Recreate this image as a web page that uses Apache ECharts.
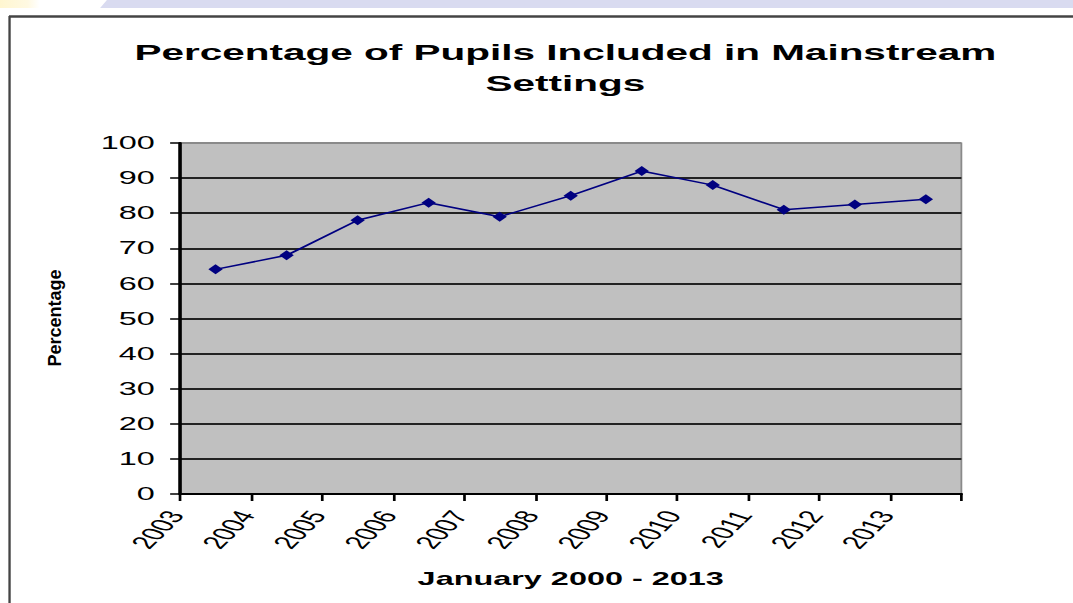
<!DOCTYPE html>
<html>
<head>
<meta charset="utf-8">
<script src="https://cdn.jsdelivr.net/npm/echarts@6/dist/echarts.min.js"></script>
<style>
html,body{margin:0;padding:0;background:#fff;overflow:hidden;}
#c{width:596px;height:603px;transform:scaleX(1.80034);transform-origin:0 0;}
</style>
</head>
<body>
<div id="c"></div>
<script>
// ---- data ----
var years = ['2003','2004','2005','2006','2007','2008','2009','2010','2011','2012','2013'];
var percentages = [64, 68, 78, 83, 79, 85, 92, 88, 81, 82.5, 84];
var yTicks = [0, 10, 20, 30, 40, 50, 60, 70, 80, 90, 100];
var titleText = 'Percentage of Pupils Included in Mainstream\nSettings';
var xTitle = 'January 2000 - 2013';
var yTitle = 'Percentage';

// each year occupies one unit band; the point sits in the middle of its band
var seriesData = percentages.map(function (v, i) { return [i + 0.5, v]; });

var FONT = '"Liberation Sans", Arial, sans-serif';
var gridColors = yTicks.map(function (t, i) { return i === yTicks.length - 1 ? '#8a8a8a' : '#222'; });

var chart = echarts.init(document.getElementById('c'), null, {renderer: 'svg'});
chart.setOption({
  backgroundColor: '#ffffff',
  animation: false,
  title: {
    text: titleText,
    left: 309,
    top: 32,
    textAlign: 'center',
    textStyle: {fontFamily: FONT, fontSize: 22.5, fontWeight: 'bold', color: '#000', lineHeight: 31}
  },
  grid: {
    left: 100, right: 62, top: 143, bottom: 109,
    show: true, backgroundColor: '#c0c0c0', borderColor: '#8a8a8a', borderWidth: 1
  },
  xAxis: {
    type: 'value', min: 0, max: years.length, interval: 1,
    name: xTitle, nameLocation: 'middle', nameGap: 76,
    nameTextStyle: {fontFamily: FONT, fontSize: 18, fontWeight: 'bold', color: '#000'},
    axisLine: {show: true, lineStyle: {color: '#000', width: 2}},
    axisTick: {show: true, inside: false, length: 7, lineStyle: {color: '#000', width: 1.5}},
    axisLabel: {
      rotate: 60, margin: 14, padding: [0, 5, 0, 0], fontFamily: FONT, fontSize: 18, color: '#000',
      formatter: function (v) { return years[v] !== undefined ? years[v] : ''; }
    },
    splitLine: {show: false}
  },
  yAxis: {
    type: 'value', min: 0, max: 100, interval: 10,
    axisLine: {show: true, lineStyle: {color: '#000', width: 2}},
    axisTick: {show: true, inside: false, length: 5.5, lineStyle: {color: '#000', width: 1.5}},
    axisLabel: {margin: 14, fontFamily: FONT, fontSize: 18, color: '#000'},
    splitLine: {show: true, lineStyle: {color: gridColors, width: 2}}
  },
  graphic: [
    {type: 'polygon', silent: true, shape: {points: [[59.4, 0], [596, 0], [596, 8], [55.6, 8]]}, style: {fill: '#d9dbf0'}},
    {type: 'rect', silent: true, shape: {x: 0, y: 0, width: 22, height: 8},
      style: {fill: new echarts.graphic.LinearGradient(0, 0, 1, 0, [{offset: 0, color: '#fff6d0'}, {offset: 0.7, color: '#fff9e2'}, {offset: 1, color: '#ffffff'}])}},
    {type: 'line', silent: true, shape: {x1: 5, y1: 16.5, x2: 596, y2: 16.5}, style: {stroke: '#444', lineWidth: 2.5}},
    {type: 'line', silent: true, shape: {x1: 5.3, y1: 16, x2: 5.3, y2: 603}, style: {stroke: '#444', lineWidth: 1.3}},
    {type: 'text', silent: true, x: 30.6, y: 318, rotation: Math.PI / 2, scaleX: 1, scaleY: 0.55,
      style: {text: yTitle, font: 'bold 18px ' + FONT, fontSize: 18, fontWeight: 'bold', fontFamily: FONT,
        align: 'center', verticalAlign: 'middle', textAlign: 'center', textVerticalAlign: 'middle', fill: '#000'}}
  ],
  series: [{
    type: 'line',
    data: seriesData,
    symbol: 'diamond',
    symbolSize: [8, 10],
    lineStyle: {color: '#000080', width: 1.5},
    itemStyle: {color: '#000080'}
  }]
});
</script>
</body>
</html>
